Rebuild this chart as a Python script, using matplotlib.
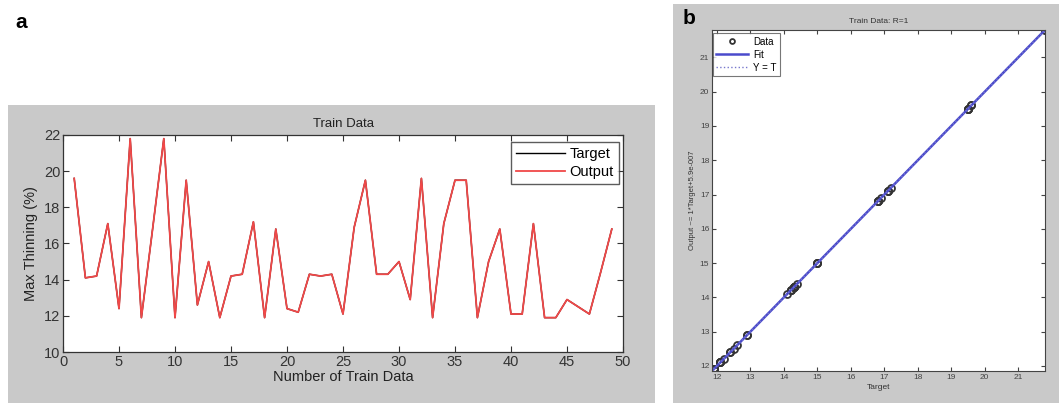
import matplotlib
matplotlib.use("Agg")
import matplotlib.pyplot as plt
from matplotlib.patches import Rectangle
import numpy as np

plt.rcParams['font.family'] = ['Liberation Sans', 'DejaVu Sans']

# ---- data ----
sample_index = list(range(1, 50))
target = [19.6, 14.1, 14.2, 17.1, 12.4, 21.8, 11.9, 16.8, 21.8, 11.9,
          19.5, 12.6, 15.0, 11.9, 14.2, 14.3, 17.2, 11.9, 16.8, 12.4,
          12.2, 14.3, 14.2, 14.3, 12.1, 16.9, 19.5, 14.3, 14.3, 15.0,
          12.9, 19.6, 11.9, 17.1, 19.5, 19.5, 11.9, 15.0, 16.8, 12.1,
          12.1, 17.1, 11.9, 11.9, 12.9, 12.5, 12.1, 14.4, 16.8]
output = list(target)
left_xticks = [0, 5, 10, 15, 20, 25, 30, 35, 40, 45, 50]
left_yticks = [10, 12, 14, 16, 18, 20, 22]
right_ticks = [12, 13, 14, 15, 16, 17, 18, 19, 20, 21]

W, H = 1059, 403
fig = plt.figure(figsize=(W / 100, H / 100), dpi=100)
fig.patch.set_facecolor('white')

gray = '#c9c9c9'
fig.add_artist(Rectangle((8 / W, 0), (655 - 8) / W, (H - 105) / H,
                         transform=fig.transFigure, facecolor=gray,
                         edgecolor='none', zorder=0))
fig.add_artist(Rectangle((673 / W, 0), (W - 673) / W, (H - 4) / H,
                         transform=fig.transFigure, facecolor=gray,
                         edgecolor='none', zorder=0))

fig.text(15 / W, 1 - 22 / H, 'a', fontsize=15, fontweight='bold', va='center')
fig.text(683 / W, 1 - 18 / H, 'b', fontsize=15, fontweight='bold', va='center')

# ---- left panel ----
ax1 = fig.add_axes([63 / W, (H - 352) / H, 560 / W, 217 / H])
ax1.plot(sample_index, target, color='black', lw=1.0, label='Target')
ax1.plot(sample_index, output, color='#f04848', lw=1.3, label='Output')
ax1.set_xlim(0, 50)
ax1.set_ylim(10, 22)
ax1.set_xticks(left_xticks)
ax1.set_yticks(left_yticks)
ax1.tick_params(direction='in', top=True, right=True, labelsize=10.5,
                colors='#333333', length=4, pad=2)
for s in ax1.spines.values():
    s.set_color('#333333')
    s.set_linewidth(0.9)
ax1.set_title('Train Data', fontsize=9.5, color='#222222', pad=6)
ax1.set_xlabel('Number of Train Data', fontsize=10.5, color='#222222', labelpad=1)
ax1.set_ylabel('Max Thinning (%)', fontsize=10.5, color='#222222', labelpad=4)
leg = ax1.legend(loc='upper right', fontsize=10.5, frameon=True, fancybox=False,
                 edgecolor='#333333', handlelength=3.4, borderpad=0.35,
                 labelspacing=0.25, handletextpad=0.3, borderaxespad=0,
                 bbox_to_anchor=(0.993, 0.968))
leg.get_frame().set_linewidth(1.0)

# ---- right panel ----
ax2 = fig.add_axes([712 / W, (H - 371) / H, 333 / W, 341 / H])
lo, hi = min(target), max(target)
ax2.plot(target, output, 'o', mfc='none', mec='#333333', ms=5, mew=1.3,
         label='Data')
fit = np.polyfit(target, output, 1)
xs = np.array([lo, hi])
ax2.plot(xs, np.polyval(fit, xs), color='#4a4acc', lw=1.8, label='Fit')
ax2.plot(xs, xs, ':', color='#7777cc', lw=1.0, label='Y = T')
ax2.set_xlim(lo - 0.05, hi)
ax2.set_ylim(lo - 0.05, hi)
ax2.set_xticks(right_ticks)
ax2.set_yticks(right_ticks)
ax2.tick_params(direction='in', top=True, right=True, labelsize=6,
                colors='#444444', length=3, pad=2)
for s in ax2.spines.values():
    s.set_color('#444444')
    s.set_linewidth(0.8)
ax2.set_title('Train Data: R=1', fontsize=6, color='#333333', pad=5)
ax2.set_xlabel('Target', fontsize=6, color='#333333', labelpad=2)
ax2.set_ylabel('Output ~= 1*Target+5.9e-007', fontsize=5.5, color='#333333',
               labelpad=3)
leg2 = ax2.legend(loc='upper left', fontsize=7, frameon=True, fancybox=False,
                  edgecolor='#555555', handlelength=3.2, borderpad=0.35,
                  labelspacing=0.3, handletextpad=0.6, borderaxespad=0,
                  bbox_to_anchor=(0.003, 0.99), markerscale=0.7)
leg2.get_frame().set_linewidth(0.8)

fig.savefig('out.png', dpi=100)
